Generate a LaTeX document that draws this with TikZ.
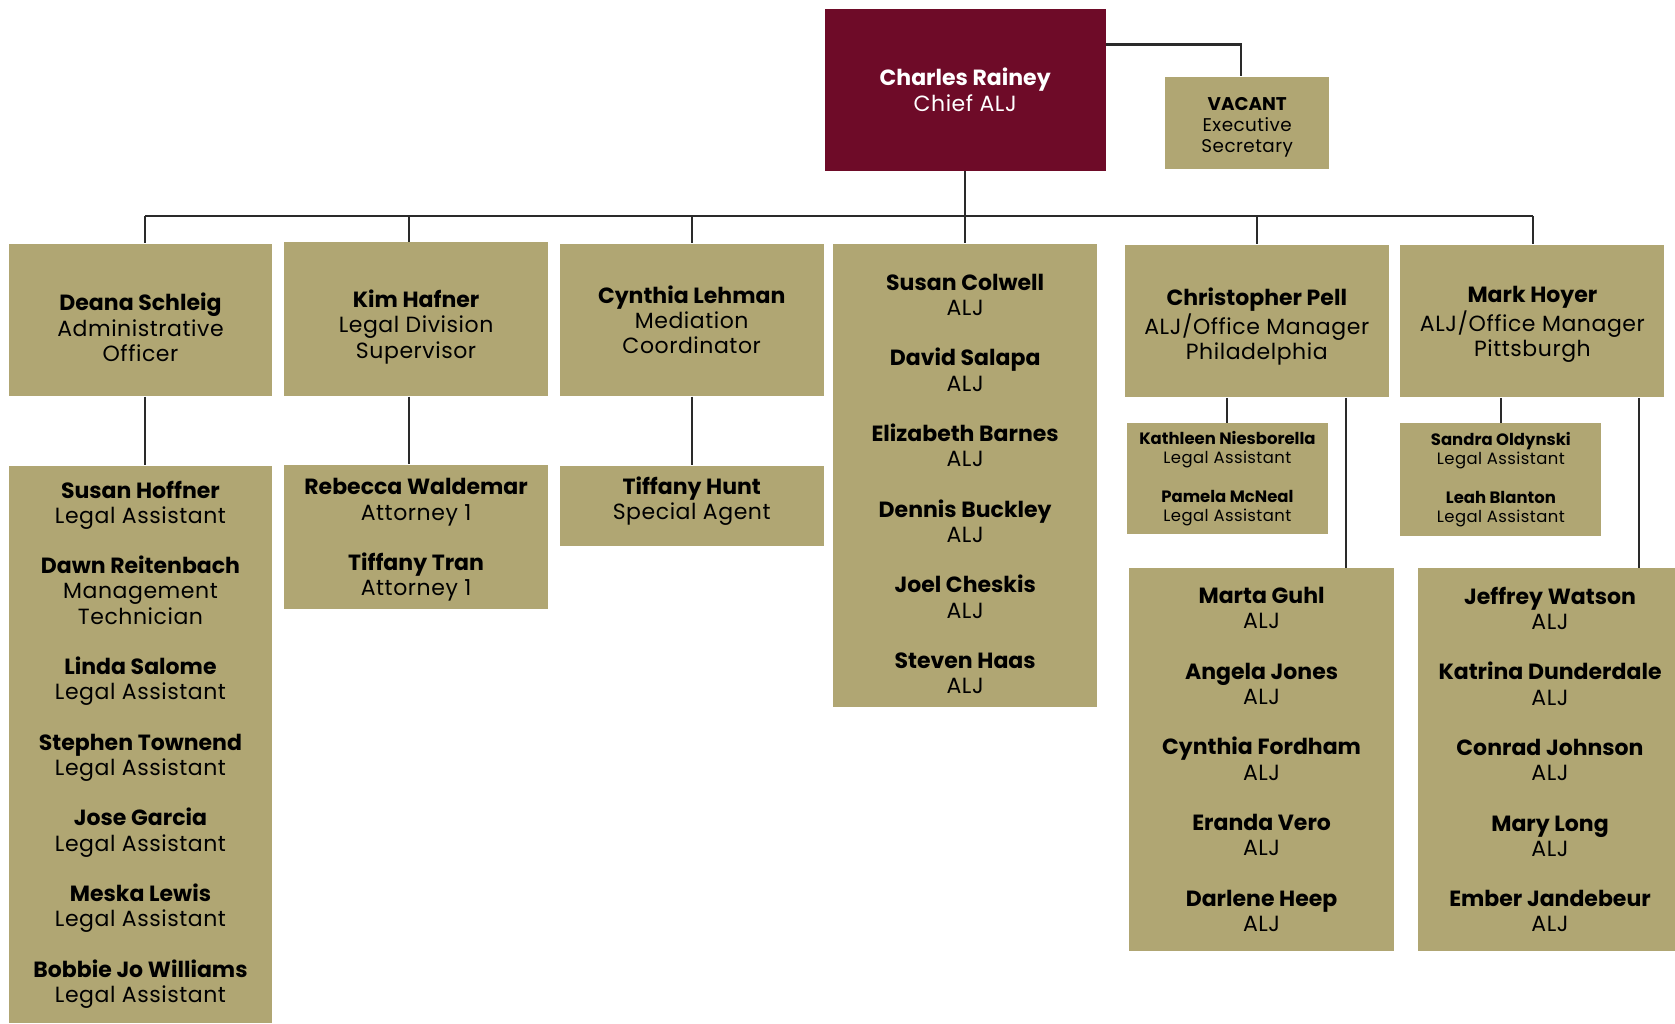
\documentclass[tikz,border=0pt]{standalone}
\usepackage{fontspec}
\setmainfont{Poppins}[LetterSpace=2.5, BoldFeatures={LetterSpace=0}]
\definecolor{gold}{HTML}{B0A673}
\definecolor{maroonbox}{HTML}{6E0B28}
\definecolor{linec}{HTML}{2A2A2A}
\newcommand\mainsz{\fontsize{10.3pt}{11.8pt}\selectfont}
\newcommand\smallsz{\fontsize{7.7pt}{9pt}\selectfont}
\newcommand\vacsz{\fontsize{8.6pt}{9.8pt}\selectfont}
\newcommand\pent[2]{\textbf{#1}\\#2}
\begin{document}
\begin{tikzpicture}[x=0.5pt,y=-0.5pt,
  box/.style={fill=gold, inner sep=0pt},
  txt/.style={inner sep=0pt, align=center, text=black, font=\mainsz},
  smalltxt/.style={txt, font=\smallsz},
  sz/.style 2 args={minimum width=#1*0.5pt, minimum height=#2*0.5pt},
  conn/.style={draw=linec, line width=1pt}]
\useasboundingbox (0,0) rectangle (1568,958);
% top
\node[fill=maroonbox, inner sep=0pt, sz={263}{152}] (chief) at (903.5,84) {};
\node[txt, text=white] (chiefT) at (chief.center) {\textbf{Charles Rainey}\\Chief ALJ};
\node[box, sz={153}{86}] (vacant) at (1167.5,115) {};
\node[txt, font=\vacsz] (vacantT) at ([yshift=-2pt]vacant.center) {\textbf{VACANT}\\Executive\\Secretary};
% level 1
\node[box, sz={247}{143}] (deana) at (131.5,299.5) {};
\node[txt] (deanaT) at ([yshift=-3.5pt]deana.center) {\pent{Deana Schleig}{Administrative\\Officer}};
\node[box, sz={247}{144}] (kim) at (389.5,299) {};
\node[txt] (kimT) at ([yshift=-3.5pt]kim.center) {\pent{Kim Hafner}{Legal Division\\Supervisor}};
\node[box, sz={247}{143}] (lehman) at (647.5,299.5) {};
\node[txt] (lehmanT) at (lehman.center) {\pent{Cynthia Lehman}{Mediation\\Coordinator}};
\node[box, sz={247}{434}] (colwell) at (903.5,445) {};
\node[txt] (colwellT) at ([yshift=-4pt]colwell.center)
  {\pent{Susan Colwell}{ALJ}\\[11.8pt]\pent{David Salapa}{ALJ}\\[11.8pt]\pent{Elizabeth Barnes}{ALJ}\\[11.8pt]\pent{Dennis Buckley}{ALJ}\\[11.8pt]\pent{Joel Cheskis}{ALJ}\\[11.8pt]\pent{Steven Haas}{ALJ}};
\node[box, sz={247}{143}] (pell) at (1176.5,300.5) {};
\node[txt] (pellT) at ([yshift=-2.5pt]pell.center) {\pent{Christopher Pell}{ALJ/Office Manager\\Philadelphia}};
\node[box, sz={247}{143}] (hoyer) at (1434.5,300.5) {};
\node[txt] (hoyerT) at ([yshift=-1.5pt]hoyer.center) {\pent{Mark Hoyer}{ALJ/Office Manager\\Pittsburgh}};
% level 2
\node[box, sz={247}{522}] (deanaL) at (131.5,697) {};
\node[txt] (deanaLT) at (deanaL.center)
  {\pent{Susan Hoffner}{Legal Assistant}\\[11.8pt]\pent{Dawn Reitenbach}{Management\\Technician}\\[11.8pt]\pent{Linda Salome}{Legal Assistant}\\[11.8pt]\pent{Stephen Townend}{Legal Assistant}\\[11.8pt]\pent{Jose Garcia}{Legal Assistant}\\[11.8pt]\pent{Meska Lewis}{Legal Assistant}\\[11.8pt]\pent{Bobbie Jo Williams}{Legal Assistant}};
\node[box, sz={247}{135}] (kimL) at (389.5,502.5) {};
\node[txt] (kimLT) at ([yshift=-1.5pt]kimL.center)
  {\pent{Rebecca Waldemar}{Attorney 1}\\[11.8pt]\pent{Tiffany Tran}{Attorney 1}};
\node[box, sz={247}{75}] (lehmanL) at (647.5,473.5) {};
\node[txt] (lehmanLT) at ([yshift=2pt]lehmanL.center) {\pent{Tiffany Hunt}{Special Agent}};
\node[box, sz={188}{104}] (pellLA) at (1149,448) {};
\node[smalltxt] (pellLAT) at (pellLA.center)
  {\pent{Kathleen Niesborella}{Legal Assistant}\\[9pt]\pent{Pamela McNeal}{Legal Assistant}};
\node[box, sz={248}{358}] (pellL) at (1181,711) {};
\node[txt] (pellLT) at (pellL.center)
  {\pent{Marta Guhl}{ALJ}\\[11.8pt]\pent{Angela Jones}{ALJ}\\[11.8pt]\pent{Cynthia Fordham}{ALJ}\\[11.8pt]\pent{Eranda Vero}{ALJ}\\[11.8pt]\pent{Darlene Heep}{ALJ}};
\node[box, sz={188}{106}] (hoyerLA) at (1405,449) {};
\node[smalltxt] (hoyerLAT) at (hoyerLA.center)
  {\pent{Sandra Oldynski}{Legal Assistant}\\[9pt]\pent{Leah Blanton}{Legal Assistant}};
\node[box, sz={248}{358}] (hoyerL) at (1451,711) {};
\node[txt] (hoyerLT) at (hoyerL.center)
  {\pent{Jeffrey Watson}{ALJ}\\[11.8pt]\pent{Katrina Dunderdale}{ALJ}\\[11.8pt]\pent{Conrad Johnson}{ALJ}\\[11.8pt]\pent{Mary Long}{ALJ}\\[11.8pt]\pent{Ember Jandebeur}{ALJ}};
% connector coordinates
\coordinate (b1) at (136,202);
\coordinate (b2) at (383,202);
\coordinate (b3) at (648,202);
\coordinate (b5) at (1177,202);
\coordinate (b6) at (1435,202);
\coordinate (p2) at (1260,0);
\coordinate (h2) at (1534,0);
% connectors
\draw[conn] ([yshift=-17pt]chief.north east) -| ([xshift=-3pt]vacant.north);
\draw[conn] (b1) -- (b6);
\draw[conn] (chief.south) -- (colwell.north);
\draw[conn] (b1) -- (b1 |- deana.north);
\draw[conn] (b2) -- (b2 |- kim.north);
\draw[conn] (b3) -- (b3 |- lehman.north);
\draw[conn] (b5) -- (b5 |- pell.north);
\draw[conn] (b6) -- (b6 |- hoyer.north);
\draw[conn] (b1 |- deana.south) -- (b1 |- deanaL.north);
\draw[conn] (b2 |- kim.south) -- (b2 |- kimL.north);
\draw[conn] (b3 |- lehman.south) -- (b3 |- lehmanL.north);
\draw[conn] (pellLA.north |- pell.south) -- (pellLA.north);
\draw[conn] (p2 |- pell.south) -- (p2 |- pellL.north);
\draw[conn] (hoyerLA.north |- hoyer.south) -- (hoyerLA.north);
\draw[conn] (h2 |- hoyer.south) -- (h2 |- hoyerL.north);
\end{tikzpicture}
\end{document}
